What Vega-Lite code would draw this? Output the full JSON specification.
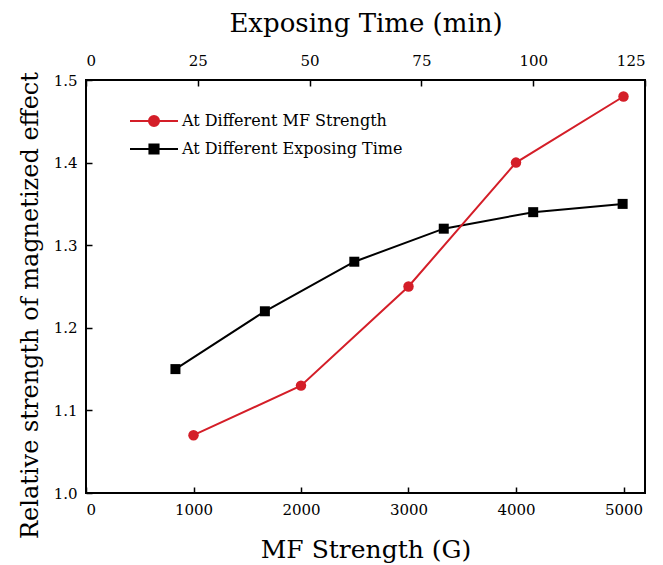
{
  "$schema": "https://vega.github.io/schema/vega-lite/v6.json",
  "width": 559,
  "height": 413,
  "autosize": {"type": "none"},
  "padding": {"left": 86, "top": 80, "right": 18, "bottom": 72},
  "background": "white",
  "config": {
    "font": "DejaVu Serif",
    "view": {"stroke": "black", "strokeWidth": 2},
    "axis": {
      "domain": false,
      "grid": false,
      "tickColor": "black",
      "tickWidth": 1.5,
      "tickSize": -6,
      "labelFont": "DejaVu Serif",
      "labelFontSize": 15,
      "labelColor": "black",
      "labelPadding": 14,
      "titleFont": "DejaVu Serif",
      "titleColor": "black",
      "titleFontWeight": "normal",
      "titleFontSize": 26
    },
    "legend": {"labelFont": "DejaVu Serif"}
  },
  "layer": [
    {
      "data": {
        "values": [
          {"series": "At Different Exposing Time", "time": 20, "value": 1.15},
          {"series": "At Different Exposing Time", "time": 40, "value": 1.22},
          {"series": "At Different Exposing Time", "time": 60, "value": 1.28},
          {"series": "At Different Exposing Time", "time": 80, "value": 1.32},
          {"series": "At Different Exposing Time", "time": 100, "value": 1.34},
          {"series": "At Different Exposing Time", "time": 120, "value": 1.35}
        ]
      },
      "mark": {"type": "line", "strokeWidth": 2, "point": {"shape": "square", "filled": true, "size": 100, "opacity": 1}},
      "encoding": {
        "x": {
          "field": "time", "type": "quantitative",
          "scale": {"domain": [0, 125], "nice": false, "zero": false},
          "axis": {"orient": "top", "title": "Exposing Time (min)", "values": [0, 25, 50, 75, 100, 125], "format": "d", "labelPadding": 18, "titleY": -57, "titleBaseline": "middle"}
        },
        "y": {
          "field": "value", "type": "quantitative",
          "scale": {"domain": [1.0, 1.5], "nice": false, "zero": false},
          "axis": {"title": "Relative strength of magnetized effect", "values": [1.0, 1.1, 1.2, 1.3, 1.4, 1.5], "format": ".1f", "titleFontSize": 24, "labelPadding": 15, "titleX": -56, "titleY": 225, "titleBaseline": "middle"}
        },
        "color": {
          "field": "series", "type": "nominal",
          "scale": {"domain": ["At Different MF Strength", "At Different Exposing Time"], "range": ["#d41e28", "#000000"]},
          "legend": {
            "title": null,
            "orient": "none",
            "legendX": 43,
            "legendY": 28,
            "labelFontSize": 16,
            "labelColor": "black",
            "labelLimit": 500,
            "labelOffset": 27,
            "symbolSize": 576,
            "rowPadding": 5,
            "encode": {
              "symbols": {
                "update": {
                  "shape": {"signal": "datum.value === 'At Different MF Strength' ? 'M-1,0H3M1.42,0A0.42,0.42,0,1,1,0.58,0A0.42,0.42,0,1,1,1.42,0Z' : 'M-1,0H3M0.62,-0.38H1.38V0.38H0.62Z'"},
                  "fill": {"signal": "datum.value === 'At Different MF Strength' ? '#d41e28' : '#000000'"},
                  "stroke": {"signal": "datum.value === 'At Different MF Strength' ? '#d41e28' : '#000000'"},
                  "strokeWidth": {"value": 2},
                  "opacity": {"value": 1},
                  "fillOpacity": {"value": 1}
                }
              }
            }
          }
        }
      }
    },
    {
      "data": {
        "values": [
          {"series": "At Different MF Strength", "strength": 1000, "value": 1.07},
          {"series": "At Different MF Strength", "strength": 2000, "value": 1.13},
          {"series": "At Different MF Strength", "strength": 3000, "value": 1.25},
          {"series": "At Different MF Strength", "strength": 4000, "value": 1.40},
          {"series": "At Different MF Strength", "strength": 5000, "value": 1.48}
        ]
      },
      "mark": {"type": "line", "strokeWidth": 2, "point": {"shape": "circle", "filled": true, "size": 110, "opacity": 1}},
      "encoding": {
        "x": {
          "field": "strength", "type": "quantitative",
          "scale": {"domain": [0, 5200], "nice": false, "zero": false},
          "axis": {"orient": "bottom", "title": "MF Strength (G)", "values": [0, 1000, 2000, 3000, 4000, 5000], "format": "d", "labelPadding": 15, "titleFontSize": 25, "titleY": 56, "titleBaseline": "middle"}
        },
        "y": {
          "field": "value", "type": "quantitative",
          "scale": {"domain": [1.0, 1.5], "nice": false, "zero": false},
          "axis": {"title": "Relative strength of magnetized effect", "values": [1.0, 1.1, 1.2, 1.3, 1.4, 1.5], "format": ".1f", "titleFontSize": 24, "labelPadding": 15, "titleX": -56, "titleY": 225, "titleBaseline": "middle"}
        },
        "color": {
          "field": "series", "type": "nominal"
        }
      }
    }
  ],
  "resolve": {"scale": {"x": "independent"}, "axis": {"x": "independent"}}
}
